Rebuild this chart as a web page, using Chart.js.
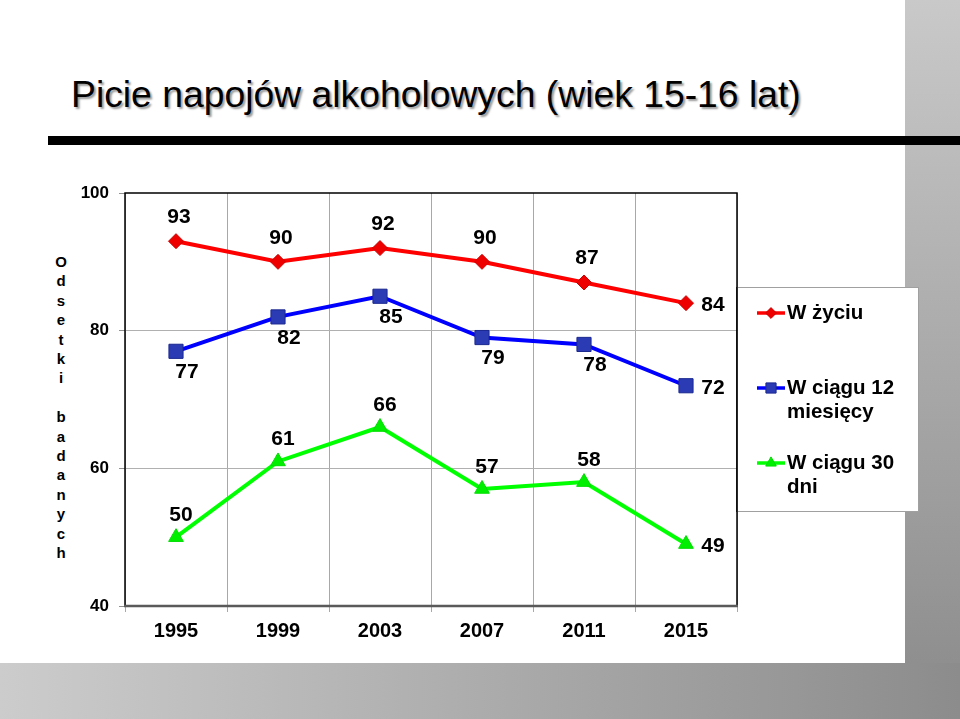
<!DOCTYPE html>
<html><head><meta charset="utf-8">
<script src="https://cdn.jsdelivr.net/npm/chart.js@4/dist/chart.umd.min.js"></script>
<style>
html,body{margin:0;padding:0;width:960px;height:719px;overflow:hidden;background:#fff;font-family:"Liberation Sans",Arial,sans-serif}
#rs{position:absolute;left:905px;top:0;width:55px;height:719px;background:linear-gradient(#c9c9c9,#8a8a8a)}
#bs{position:absolute;left:0;top:663px;width:960px;height:56px;background:linear-gradient(90deg,#cccccc,#8c8c8c)}
#bar{position:absolute;left:48px;top:136px;width:912px;height:9px;background:#000}
#title{position:absolute;left:71px;top:76px;font-size:37.3px;line-height:37px;white-space:nowrap;color:#000;text-shadow:2px 2px 2px #9a9a9a}
#ytitle{position:absolute;left:50px;top:252px;width:22px;text-align:center;font-weight:bold;font-size:15px;line-height:19.4px}
#wrap{position:absolute;left:0;top:0;width:960px;height:719px}
</style></head>
<body>
<div id="rs"></div><div id="bs"></div><div id="bar"></div>
<div id="title"></div>
<div id="ytitle"></div>
<div id="wrap"><canvas id="c"></canvas></div>
<script>
const chartTitle = 'Picie napojów alkoholowych (wiek 15-16 lat)';
const yAxisTitle = 'Odsetki badanych';
const categories = ['1995','1999','2003','2007','2011','2015'];
const seriesNames = ['W życiu','W ciągu 12 miesięcy','W ciągu 30 dni'];
const lifetime = [93,90,92,90,87,84];
const last12months = [77,82,85,79,78,72];
const last30days = [50,61,66,57,58,49];
const yTicks = [40,60,80,100];

document.getElementById('title').textContent = chartTitle;
const yt = document.getElementById('ytitle');
yAxisTitle.split('').forEach(ch => {
  const d = document.createElement('div');
  d.textContent = ch === ' ' ? '\u00a0' : ch;
  yt.appendChild(d);
});

const FONT = '"Liberation Sans", Arial, sans-serif';
const labelOffsets = [{dx:3,dy:-24},{dx:11,dy:21},{dx:5,dy:-22}];

const framePlugin = {
  id:'frame',
  beforeDatasetsDraw(chart){
    const {ctx, chartArea:a} = chart;
    ctx.save();
    ctx.strokeStyle = '#000';
    ctx.lineWidth = 1.5;
    ctx.beginPath();
    ctx.moveTo(a.left, a.bottom); ctx.lineTo(a.left, a.top); ctx.lineTo(a.right, a.top); ctx.lineTo(a.right, a.bottom);
    ctx.stroke();
    ctx.strokeStyle = '#5a5a5a';
    ctx.lineWidth = 2.5;
    ctx.beginPath(); ctx.moveTo(a.left-1, a.bottom); ctx.lineTo(a.right+1, a.bottom); ctx.stroke();
    ctx.restore();
  }
};

const labelPlugin = {
  id:'vlabels',
  afterDatasetsDraw(chart){
    const ctx = chart.ctx;
    ctx.save();
    ctx.font = 'bold 21px ' + FONT;
    ctx.fillStyle = '#000';
    ctx.textAlign = 'center';
    ctx.textBaseline = 'middle';
    chart.data.datasets.forEach((ds, i) => {
      const meta = chart.getDatasetMeta(i);
      meta.data.forEach((pt, j) => {
        const last = j === meta.data.length - 1;
        const o = last ? {dx:27, dy:2} : labelOffsets[i];
        ctx.fillText(String(ds.data[j]), pt.x + o.dx, pt.y + o.dy);
      });
    });
    ctx.restore();
  }
};

function wrapText(ctx, text, maxW){
  const words = text.split(' ');
  const lines = [];
  let cur = '';
  words.forEach(w => {
    const t = cur ? cur + ' ' + w : w;
    if (cur && ctx.measureText(t).width > maxW) { lines.push(cur); cur = w; }
    else cur = t;
  });
  if (cur) lines.push(cur);
  return lines;
}

const legendPlugin = {
  id:'boxlegend',
  afterDraw(chart){
    const ctx = chart.ctx;
    const a = chart.chartArea;
    const bx = a.right, by = 287, bw = 181, bh = 224;
    ctx.save();
    ctx.fillStyle = '#fff';
    ctx.fillRect(bx, by, bw, bh);
    ctx.strokeStyle = '#a0a0a0';
    ctx.lineWidth = 1;
    ctx.strokeRect(bx + 0.5, by + 0.5, bw, bh);
    ctx.strokeStyle = '#000';
    ctx.lineWidth = 1.5;
    ctx.beginPath(); ctx.moveTo(a.right, by); ctx.lineTo(a.right, by + bh + 1); ctx.stroke();
    ctx.font = 'bold 20.5px ' + FONT;
    ctx.textBaseline = 'middle';
    ctx.textAlign = 'left';
    chart.data.datasets.forEach((ds, i) => {
      const y = by + 26 + i * 75;
      ctx.strokeStyle = ds.borderColor;
      ctx.lineWidth = 3.5;
      ctx.beginPath(); ctx.moveTo(bx + 20, y); ctx.lineTo(bx + 48, y); ctx.stroke();
      ctx.fillStyle = ds.pointBackgroundColor;
      ctx.strokeStyle = ds.pointBorderColor;
      ctx.lineWidth = 1;
      Chart.helpers.drawPoint(ctx, {pointStyle: ds.pointStyle, radius: ds.pointRadius * 0.72, rotation: 0, borderWidth: 1}, bx + 34, y);
      ctx.fillStyle = '#000';
      wrapText(ctx, ds.label, 128).forEach((ln, k) => ctx.fillText(ln, bx + 50, y + k * 24.5));
    });
    ctx.restore();
  }
};

new Chart(document.getElementById('c'), {
  type:'line',
  data:{
    labels: categories,
    datasets:[
      {label:seriesNames[0], data:lifetime, borderColor:'#ff0000', borderWidth:4, pointStyle:'rectRot', pointRadius:7.5, pointBackgroundColor:'#ee0000', pointBorderColor:'#cc0000', pointBorderWidth:1, tension:0},
      {label:seriesNames[1], data:last12months, borderColor:'#0000ff', borderWidth:4, pointStyle:'rect', pointRadius:10, pointBackgroundColor:'#2b3bb3', pointBorderColor:'#1a2890', pointBorderWidth:1, tension:0},
      {label:seriesNames[2], data:last30days, borderColor:'#00ff00', borderWidth:4, pointStyle:'triangle', pointRadius:8.5, pointBackgroundColor:'#00ee00', pointBorderColor:'#00dd00', pointBorderWidth:1, tension:0}
    ]
  },
  options:{
    responsive:true, maintainAspectRatio:false, animation:false,
    layout:{padding:{left:0, top:193, right:223, bottom:63}},
    plugins:{legend:{display:false}, tooltip:{enabled:false}},
    scales:{
      x:{
        offset:true,
        grid:{offset:true, color:'#a8a8a8', tickColor:'#a8a8a8', tickLength:6, lineWidth:1},
        border:{display:false},
        ticks:{color:'#000', padding:7, font:{family:FONT, size:20, weight:'bold'}},
        afterFit(s){ s.height = 50; }
      },
      y:{
        min:40, max:100,
        afterBuildTicks(s){ s.ticks = yTicks.map(v => ({value:v})); },
        grid:{color: c => (c.tick && (c.tick.value === 60 || c.tick.value === 80)) ? '#b0b0b0' : 'rgba(0,0,0,0)', tickColor:'#909090', tickLength:6},
        border:{display:false},
        ticks:{color:'#000', padding:10, font:{family:FONT, size:17, weight:'bold'}},
        afterFit(s){ s.width = 125; }
      }
    }
  },
  plugins:[framePlugin, labelPlugin, legendPlugin]
});
</script>
</body></html>
